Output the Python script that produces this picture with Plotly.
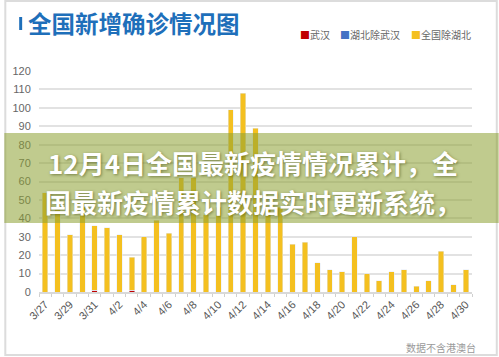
import plotly.graph_objects as go

dates = ["3/27", "3/28", "3/29", "3/30", "3/31", "4/1", "4/2", "4/3", "4/4", "4/5",
         "4/6", "4/7", "4/8", "4/9", "4/10", "4/11", "4/12", "4/13", "4/14", "4/15",
         "4/16", "4/17", "4/18", "4/19", "4/20", "4/21", "4/22", "4/23", "4/24", "4/25",
         "4/26", "4/27", "4/28", "4/29", "4/30"]
wuhan = [0, 0, 0, 0, 1, 0, 0, 1, 0, 0,
         0, 0, 0, 0, 0, 0, 0, 0, 0, 0,
         0, 0, 0, 0, 0, 0, 0, 0, 0, 0,
         0, 0, 0, 0, 0]
hubei_ex_wuhan = [0] * 35
national_ex_hubei = [54, 45, 31, 46, 35, 35, 31, 18, 30, 39,
                     32, 62, 62, 42, 46, 99, 108, 89, 46, 46,
                     26, 27, 16, 12, 11, 30, 10, 6, 11, 12,
                     3, 6, 22, 4, 12]
tick_labels = [d if i % 2 == 0 else "" for i, d in enumerate(dates)]
y_ticks = list(range(0, 121, 10))

W, H = 499, 357
ML, MR, MT, MB = 35, 27, 71, 65
PW, PH = W - ML - MR, H - MT - MB


def px(x):
    return (x - ML) / PW


def py(y):
    return (H - MB - y) / PH


CJK = "Noto Sans CJK SC"
BLUE = "#1e6fba"

fig = go.Figure()
fig.add_trace(go.Bar(x=dates, y=wuhan, name="武汉", marker_color="#c00000"))
fig.add_trace(go.Bar(x=dates, y=hubei_ex_wuhan, name="湖北除武汉", marker_color="#4472c4"))
fig.add_trace(go.Bar(x=dates, y=national_ex_hubei, name="全国除湖北", marker_color="#f4c020"))

shapes = [
    # frame
    dict(type="rect", xref="paper", yref="paper", x0=px(1), x1=px(497), y0=py(355), y1=py(1),
         line=dict(color="#dcdcdc", width=2), layer="below"),
    # title accent bar
    dict(type="rect", xref="paper", yref="paper", x0=px(15), x1=px(18), y0=py(30), y1=py(17),
         fillcolor=BLUE, line=dict(width=0)),
    # overlay band
    dict(type="rect", xref="paper", yref="paper", x0=px(0), x1=px(499), y0=py(223), y1=py(133),
         fillcolor="rgba(140,160,50,0.55)", line=dict(width=0), layer="above"),
]

shadow = "1px 1px 3px rgba(70,80,20,0.6)"
annotations = [
    dict(text="<b>全国新增确诊情况图</b>", x=px(22), y=py(23), xanchor="left", yanchor="middle",
         font=dict(family=CJK, size=23.5, color=BLUE)),
    dict(text="<span style='color:#c00000'>■</span>武汉", x=px(296), y=py(35),
         xanchor="left", yanchor="middle", font=dict(family=CJK, size=10, color="#666")),
    dict(text="<span style='color:#4472c4'>■</span>湖北除武汉", x=px(337), y=py(35),
         xanchor="left", yanchor="middle", font=dict(family=CJK, size=10, color="#666")),
    dict(text="<span style='color:#f4c020'>■</span>全国除湖北", x=px(408), y=py(35),
         xanchor="left", yanchor="middle", font=dict(family=CJK, size=10, color="#666")),
    dict(text="数据不含港澳台", x=px(478), y=py(347), xanchor="right", yanchor="middle",
         font=dict(family=CJK, size=10, color="#9a9a9a")),
    dict(text="<b>12月4日全国最新疫情情况累计，全</b>", x=px(251), y=py(162),
         xanchor="center", yanchor="middle",
         font=dict(family=CJK, size=26, color="white", shadow=shadow)),
    dict(text="<b>国最新疫情累计数据实时更新系统，</b>", x=px(251), y=py(201),
         xanchor="center", yanchor="middle",
         font=dict(family=CJK, size=26, color="white", shadow=shadow)),
]
for a in annotations:
    a.update(xref="paper", yref="paper", showarrow=False)

fig.update_layout(
    width=W, height=H,
    margin=dict(l=ML, r=MR, t=MT, b=MB, pad=0),
    paper_bgcolor="white", plot_bgcolor="white",
    barmode="stack", bargap=0.56,
    showlegend=False,
    shapes=shapes, annotations=annotations,
    font=dict(family="Liberation Sans, Arial, sans-serif", color="#555"),
)
fig.update_xaxes(
    type="category", tickmode="array", tickvals=dates, ticktext=tick_labels,
    tickangle=-45, tickfont=dict(size=11, color="#555"),
    ticks="outside", ticklen=3, tickcolor="#d0d0d0", tickson="boundaries",
    showline=True, linecolor="#d9d9d9", linewidth=1.5, showgrid=False,
    range=[-0.5, 34.5],
)
fig.update_yaxes(
    range=[0, 120], tickvals=y_ticks, tickfont=dict(size=11, color="#666"),
    showgrid=True, gridcolor="#e2e2e2", gridwidth=1.5, zeroline=False,
    ticks="outside", ticklen=5, tickcolor="rgba(0,0,0,0)",
)

fig.write_html(
    "out.html",
    config={"displayModeBar": False},
    post_script="document.body.style.margin='0';document.body.style.overflow='hidden';",
)
